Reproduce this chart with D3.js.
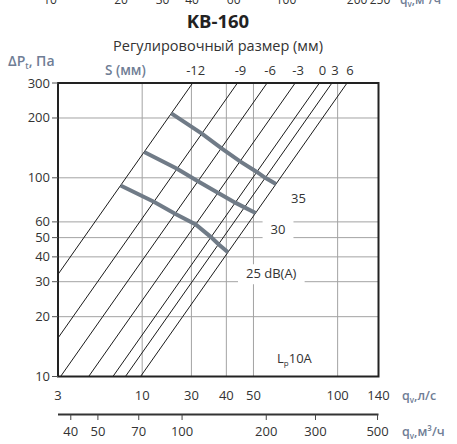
<!DOCTYPE html>
<html><head><meta charset="utf-8">
<script src="https://cdn.jsdelivr.net/npm/d3@7"></script>
<style>
body{margin:0;background:#fff}
svg{display:block;font-family:"Open Sans",sans-serif}
</style></head><body>
<svg id="chart" width="457" height="444"></svg>
<script>
// KB-160 damper: pressure drop against airflow for each regulating setting S
const settingLabels = ["-12", "-9", "-6", "-3", "0", "3", "6"];
const flowAt100Pa = [17.5, 25.3, 32.3, 40.7, 49.7, 55.1, 62.4];   // l/s at 100 Pa, one per setting
const noiseLabels = ["35", "30", "25 dB(A)"];
const noise35 = [211, 167, 141, 121, 107, 100, 93];      // Pa where each setting line meets the curve
const noise30 = [135, 111, 96, 84, 75, 71, 66.5];
const noise25 = [91.5, 75.7, 65.9, 58.3, 50.3, 46.3, 42.2];
const pressureTicks = [10, 20, 30, 40, 50, 60, 100, 200, 300];
const pressureGrid = [20, 30, 40, 50, 60, 100, 200];
const flowTickValues = [10, 20, 30, 40, 50, 100, 140];
const flowTickLabels = ["3", "10", "30", "40", "50", "100", "140"];
const flowGrid = [20, 30, 40, 50, 100];
const m3hTicks = [40, 50, 70, 100, 200, 300, 500];
const upperAxisTicks = [10, 20, 30, 40, 60, 100, 200, 250];

const svg = d3.select("#chart");
const pL = 58, pR = 378.5, pT = 83, pB = 376.5;
const x = d3.scaleLog().domain([10, 140]).range([pL, pR]);
const y = d3.scaleLog().domain([10, 300]).range([pB, pT]);
const xm3h = d3.scaleLog().domain([10 * 3.6, 140 * 3.6]).range([pL, pR]);
const xUpper = d3.scaleLog().domain([10, 250]).range([50, 380]);

const numColor = "#333", unitColor = "#6f7d95", gridColor = "#a3a3a3";
// where each noise label sits relative to the end of its curve
const labelOffsets = [[15, 19], [15, 21], [18, 26]];

// flow on a setting line at a given pressure (ΔP ∝ q²)
const flowAt = (i, p) => flowAt100Pa[i] * Math.sqrt(p / 100);

// remnant of the axis of the chart above
const up = svg.append("g").attr("font-size", 12).attr("fill", numColor);
up.selectAll("text").data(upperAxisTicks).join("text")
  .attr("x", d => xUpper(d)).attr("y", 4).attr("text-anchor", "middle").text(d => d);
const upUnit = svg.append("text").attr("x", 400).attr("y", 4).attr("font-size", 12)
  .attr("font-weight", 600).attr("fill", unitColor);
upUnit.append("tspan").text("q");
upUnit.append("tspan").attr("font-size", 8).attr("dy", 3).text("v");
upUnit.append("tspan").attr("dy", -3).text(",м³/ч");

// titles
svg.append("text").attr("x", 218).attr("y", 28).attr("text-anchor", "middle")
  .attr("font-size", 18.5).attr("font-weight", 700).attr("fill", "#222").text("KB-160");
svg.append("text").attr("x", 218).attr("y", 51).attr("text-anchor", "middle")
  .attr("font-size", 14.5).attr("fill", numColor).text("Регулировочный размер (мм)");
const yTitle = svg.append("text").attr("x", 8).attr("y", 66).attr("font-size", 14)
  .attr("font-weight", 600).attr("fill", unitColor);
yTitle.append("tspan").text("ΔP");
yTitle.append("tspan").attr("font-size", 8.5).attr("dy", 3).text("t");
yTitle.append("tspan").attr("dy", -3).text(", Па");
svg.append("text").attr("x", 105).attr("y", 75).attr("font-size", 13.5)
  .attr("font-weight", 600).attr("fill", unitColor).text("S (мм)");

// grid
const grid = svg.append("g").attr("stroke", gridColor).attr("stroke-width", 1);
grid.selectAll(".h").data(pressureGrid).join("line").attr("class", "h")
  .attr("x1", pL).attr("x2", pR).attr("y1", d => y(d)).attr("y2", d => y(d));
grid.selectAll(".v").data(flowGrid).join("line").attr("class", "v")
  .attr("y1", pT).attr("y2", pB).attr("x1", d => x(d)).attr("x2", d => x(d));

// clip for the plotting area
svg.append("clipPath").attr("id", "plot").append("rect")
  .attr("x", pL).attr("y", pT).attr("width", pR - pL).attr("height", pB - pT);

// noise curves
const curves = [noise35, noise30, noise25];
const line = d3.line().x(d => x(d.q)).y(d => y(d.p));
const curvePts = curves.map(c => c.map((p, i) => ({ q: flowAt(i, p), p })));

// noise labels with white backing that breaks the grid
const lab = svg.append("g");
curvePts.forEach((pts, k) => {
  const end = pts[pts.length - 1];
  const t = lab.append("text")
    .attr("x", x(end.q) + labelOffsets[k][0]).attr("y", y(end.p) + labelOffsets[k][1])
    .attr("font-size", 13).attr("fill", numColor).text(noiseLabels[k]);
  const b = t.node().getBBox();
  lab.insert("rect", "text").attr("x", b.x - 8).attr("y", b.y).attr("width", b.width + 16)
    .attr("height", b.height + 2).attr("fill", "#fff");
});

// setting lines
const sl = svg.append("g").attr("clip-path", "url(#plot)");
sl.selectAll("path").data(flowAt100Pa).join("path")
  .attr("d", (d, i) => line([10, 300].map(p => ({ q: flowAt(i, p), p }))))
  .attr("fill", "none").attr("stroke", "#1a1a1a").attr("stroke-width", 1);

svg.append("g").selectAll("path").data(curvePts).join("path")
  .attr("d", line).attr("fill", "none").attr("stroke", "#707b87").attr("stroke-width", 4);

// setting labels above the frame
svg.append("g").selectAll("text").data(settingLabels).join("text")
  .attr("x", (d, i) => x(flowAt(i, 300)) + 3).attr("y", 75).attr("text-anchor", "middle")
  .attr("font-size", 13).attr("fill", numColor).text(d => d);

// frame
svg.append("rect").attr("x", pL).attr("y", pT).attr("width", pR - pL)
  .attr("height", pB - pT).attr("fill", "none").attr("stroke", "#222").attr("stroke-width", 2);

// left axis
const ya = svg.append("g");
ya.selectAll("line").data(pressureTicks).join("line")
  .attr("x1", pL - 6).attr("x2", pL).attr("y1", d => y(d)).attr("y2", d => y(d))
  .attr("stroke", "#555");
ya.selectAll("text").data(pressureTicks).join("text")
  .attr("x", pL - 8).attr("y", d => y(d) + 4.5).attr("text-anchor", "end")
  .attr("font-size", 13).attr("fill", numColor).text(d => d);

// bottom axis, l/s
svg.append("g").selectAll("text").data(flowTickValues).join("text")
  .attr("x", d => x(d)).attr("y", 400).attr("text-anchor", "middle")
  .attr("font-size", 13).attr("fill", numColor).text((d, i) => flowTickLabels[i]);
const u1 = svg.append("text").attr("x", 402).attr("y", 400).attr("font-size", 12.5)
  .attr("font-weight", 600).attr("fill", unitColor);
u1.append("tspan").text("q");
u1.append("tspan").attr("font-size", 8).attr("dy", 3).text("v");
u1.append("tspan").attr("dy", -3).text(",л/с");

// second bottom axis, m³/h
const m = svg.append("g");
m.append("line").attr("x1", pL).attr("x2", pR).attr("y1", 414.5).attr("y2", 414.5)
  .attr("stroke", "#333").attr("stroke-width", 2);
m.selectAll(".t").data(m3hTicks).join("line").attr("class", "t")
  .attr("x1", d => xm3h(d)).attr("x2", d => xm3h(d)).attr("y1", 414.5).attr("y2", 420)
  .attr("stroke", "#444");
m.selectAll("text").data(m3hTicks).join("text")
  .attr("x", d => xm3h(d)).attr("y", 436).attr("text-anchor", "middle")
  .attr("font-size", 13).attr("fill", numColor).text(d => d);
const u2 = svg.append("text").attr("x", 402).attr("y", 436).attr("font-size", 12.5)
  .attr("font-weight", 600).attr("fill", unitColor);
u2.append("tspan").text("q");
u2.append("tspan").attr("font-size", 8).attr("dy", 3).text("v");
u2.append("tspan").attr("dy", -3).text(",м³/ч");

// L_p10A note
const lp = svg.append("text").attr("x", 277).attr("y", 363).attr("font-size", 13).attr("fill", numColor);
lp.append("tspan").text("L");
lp.append("tspan").attr("font-size", 8).attr("dy", 3).text("p");
lp.append("tspan").attr("dy", -3).text("10A");
</script>
</body></html>
